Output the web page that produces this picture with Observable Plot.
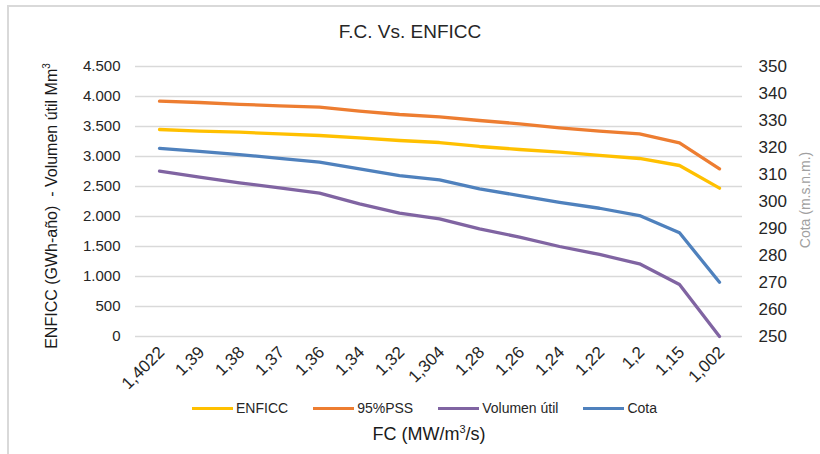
<!DOCTYPE html>
<html>
<head>
<meta charset="utf-8">
<script src="https://cdn.jsdelivr.net/npm/d3@7"></script>
<script src="https://cdn.jsdelivr.net/npm/@observablehq/plot@0.6"></script>
<style>
  html, body { margin: 0; padding: 0; background: #fff; overflow: hidden; }
  #wrap { position: relative; width: 820px; height: 454px; font-family: "Liberation Sans", Arial, sans-serif; color: #262626; overflow: hidden; }
  #frame { position: absolute; left: 7px; top: 5px; width: 830px; height: 470px; border: 2px solid #d9d9d9; box-sizing: border-box; }
  #chart { position: absolute; left: 0; top: 0; }
  .abs { position: absolute; white-space: nowrap; }
  #title { left: 0; width: 820px; top: 21px; text-align: center; font-size: 19px; color: #262626; }
  #ytitle { left: 51px; top: 206px; font-size: 16px; transform: translate(-50%, -50%) rotate(-90deg); color: #1a1a1a; }
  #y2title { left: 805px; top: 200px; font-size: 14px; transform: translate(-50%, -50%) rotate(-90deg); color: #a0a0a0; }
  #xtitle { left: 0; width: 858px; top: 423px; text-align: center; font-size: 18px; color: #1a1a1a; }
  #legend { left: 192px; top: 400px; font-size: 14px; display: flex; align-items: center; color: #262626; }
  .item { display: flex; align-items: center; }
  .sw { width: 41px; height: 3px; margin-right: 3px; }
</style>
</head>
<body>
<div id="wrap">
  <div id="frame"></div>
  <div id="chart"></div>
  <div id="title" class="abs">F.C. Vs. ENFICC</div>
  <div id="ytitle" class="abs">ENFICC (GWh-año)&nbsp; - Volumen útil Mm<sup style="font-size:10px;vertical-align:7px">3</sup></div>
  <div id="y2title" class="abs">Cota (m.s.n.m.)</div>
  <div id="xtitle" class="abs">FC (MW/m<sup style="font-size:11px;vertical-align:7px">3</sup>/s)</div>
  <div id="legend" class="abs"></div>
</div>
<script>
// ---- data ----
const categories = ["1,4022","1,39","1,38","1,37","1,36","1,34","1,32","1,304","1,28","1,26","1,24","1,22","1,2","1,15","1,002"];
const enficc  = [3450,3422,3405,3378,3350,3311,3267,3233,3167,3117,3072,3017,2967,2850,2472];
const pss95   = [3922,3900,3870,3845,3822,3755,3700,3660,3600,3545,3478,3422,3378,3228,2795];
const volumen = [2756,2656,2561,2478,2389,2211,2056,1961,1794,1656,1500,1367,1211,867,0];
const cota    = [319.7,318.6,317.4,316.0,314.6,312.1,309.6,308.0,304.7,302.2,299.7,297.5,294.8,288.4,270.1];
const seriesNames  = ["ENFICC","95%PSS","Volumen útil","Cota"];
const seriesColors = ["#FFC000","#ED7D31","#8064A2","#4F81BD"];
const leftTicks  = [0,500,1000,1500,2000,2500,3000,3500,4000,4500];
const rightTicks = [250,260,270,280,290,300,310,320,330,340,350];

// secondary axis (Cota) mapped onto primary: 250..350 -> 0..4500
const toLeft = c => (c - 250) * 45;
const fromLeft = v => Math.round(v / 45 + 250);

const rows = [];
[enficc, pss95, volumen].forEach((arr, s) =>
  arr.forEach((v, i) => rows.push({cat: categories[i], value: v, series: seriesNames[s]})));
cota.forEach((v, i) => rows.push({cat: categories[i], value: toLeft(v), series: "Cota"}));

const fmtLeft = v => d3.format(",")(v).replace(/,/g, ".");

const plot = Plot.plot({
  width: 820,
  height: 454,
  marginLeft: 135,
  marginRight: 78,
  marginTop: 66,
  marginBottom: 118,
  style: {background: "transparent", fontFamily: "'Liberation Sans', Arial, sans-serif", color: "#262626"},
  x: {type: "point", domain: categories, padding: 0.5},
  y: {domain: [0, 4500]},
  color: {domain: seriesNames, range: seriesColors},
  marks: [
    Plot.gridY(leftTicks, {stroke: "#d9d9d9", strokeOpacity: 1, strokeWidth: 1.5}),
    Plot.axisY(leftTicks, {anchor: "left", tickSize: 0, tickPadding: 15, tickFormat: fmtLeft, fontSize: 15, label: null}),
    Plot.axisY(rightTicks.map(toLeft), {anchor: "right", tickSize: 0, tickPadding: 16, tickFormat: fromLeft, fontSize: 17, label: null}),
    Plot.axisX({tickRotate: -45, tickSize: 0, tickPadding: 13, dx: 2, fontSize: 17, label: null}),
    Plot.line(rows, {x: "cat", y: "value", z: "series", stroke: "series", strokeWidth: 3.3, strokeLinejoin: "round", strokeLinecap: "round"})
  ]
});
document.getElementById("chart").appendChild(plot);

const legend = document.getElementById("legend");
const gaps = [0, 25, 25, 25];
seriesNames.forEach((n, i) => {
  const it = document.createElement("div");
  it.className = "item";
  it.style.marginLeft = gaps[i] + "px";
  it.innerHTML = `<div class="sw" style="background:${seriesColors[i]}"></div><span>${n}</span>`;
  legend.appendChild(it);
});
</script>
</body>
</html>
